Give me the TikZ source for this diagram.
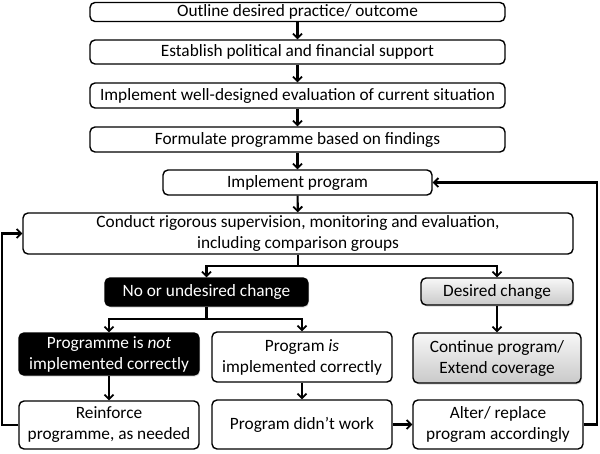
\documentclass[tikz,border=0pt]{standalone}
\usepackage{fontspec}
\setmainfont{Carlito}
\usetikzlibrary{arrows.meta, shadows}

\tikzset{
  box/.style={draw, rounded corners=5pt, line width=1.4pt, fill=white, align=center, inner sep=1pt,
    font=\fontsize{17.3}{21}\selectfont},
  darkbox/.style={box, fill=black, text=white, drop shadow={shadow xshift=1pt, shadow yshift=-1.5pt, opacity=0.3}},
  greybox/.style={box, top color=gray!6, bottom color=gray!42, drop shadow={shadow xshift=1pt, shadow yshift=-1.5pt, opacity=0.3}},
  arr/.style={line width=2.1pt, -{Straight Barb[length=4.5pt, width=9pt, line width=1.8pt]}}
}

\begin{document}
\begin{tikzpicture}[x=1pt, y=-1pt]
\useasboundingbox (0,0) rectangle (600,453);

\node[box, minimum width=415pt, minimum height=19pt] (outline) at (297.5, 12) {Outline desired practice/ outcome};
\node[box, minimum width=415pt, minimum height=24pt] (support) at (297.5, 52) {Establish political and financial support};
\node[box, minimum width=415pt, minimum height=25pt] (evaluate) at (297.5, 95.5) {Implement well-designed evaluation of current situation};
\node[box, minimum width=415pt, minimum height=25pt] (formulate) at (297.5, 139.5) {Formulate programme based on findings};
\node[box, minimum width=269pt, minimum height=25pt] (implement) at (297.5, 182.5) {Implement program};
\node[box, minimum width=550pt, minimum height=41pt] (monitor) at (298, 233.5) {Conduct rigorous supervision, monitoring and evaluation,\\including comparison groups};

\node[darkbox, minimum width=203pt, minimum height=28pt] (nochange) at (206.5, 292) {No or undesired change};
\node[greybox, minimum width=152pt, minimum height=27pt] (desired) at (497, 291.5) {Desired change};

\node[darkbox, minimum width=180pt, minimum height=42pt] (notcorrect) at (109, 354) {Programme is \textit{not}\\implemented correctly};
\node[box, minimum width=180pt, minimum height=50pt] (correct) at (302, 357) {Program \textit{is}\\implemented correctly};
\node[greybox, minimum width=168pt, minimum height=50pt] (extend) at (497, 358) {Continue program/\\Extend coverage};

\node[box, minimum width=180pt, minimum height=48pt] (reinforce) at (109, 425) {Reinforce\\programme, as needed};
\node[box, minimum width=180pt, minimum height=49pt] (failed) at (302, 424.5) {Program didn't work};
\node[box, minimum width=170pt, minimum height=49pt] (alter) at (498, 424.5) {Alter/ replace\\program accordingly};

\coordinate (split1) at (298, 266);
\coordinate (split2) at (206.5, 319);

\draw[arr] (outline) -- (support);
\draw[arr] (support) -- (evaluate);
\draw[arr] (evaluate) -- (formulate);
\draw[arr] (formulate) -- (implement);
\draw[arr] (implement) -- (monitor);

\draw[arr] (monitor.south) -- (split1) -| (nochange.north);
\draw[arr] (split1) -| (desired.north);
\draw[arr] (nochange.south) -- (split2) -| (notcorrect.north);
\draw[arr] (split2) -| (correct.north);

\draw[arr] (notcorrect) -- (reinforce);
\draw[arr] (correct) -- (failed);
\draw[arr] (desired) -- (extend);
\draw[arr] (failed) -- (alter);

\draw[arr] (reinforce.west) -- ++(-16,0) |- (monitor.west);
\draw[arr] (alter.east) -- ++(13,0) |- (implement.east);
\end{tikzpicture}
\end{document}
